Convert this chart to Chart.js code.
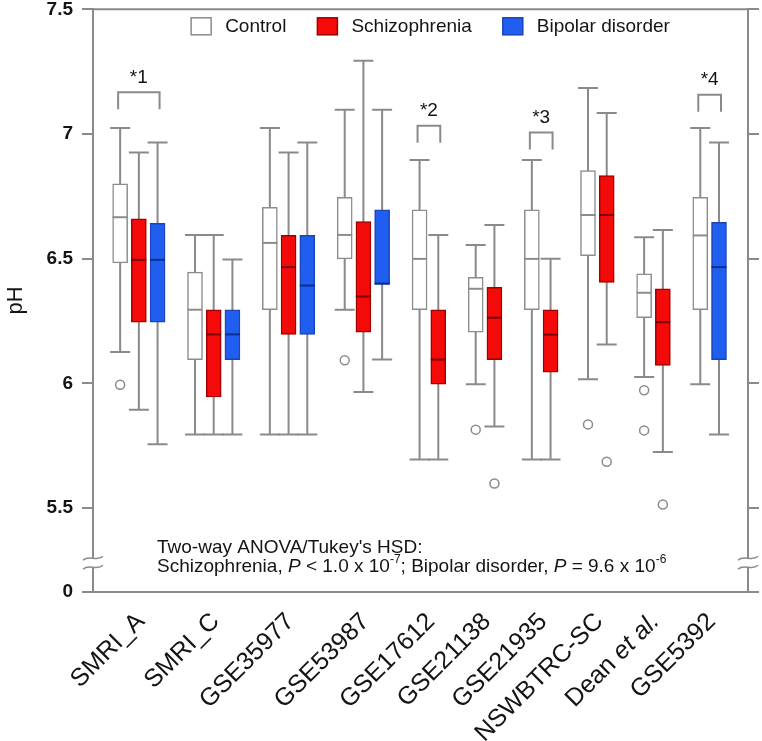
<!DOCTYPE html>
<html>
<head>
<meta charset="utf-8">
<script src="https://cdn.jsdelivr.net/npm/chart.js@4"></script>
<style>
  html, body { margin: 0; padding: 0; background: #fff; }
  #wrap { position: relative; width: 762px; height: 741px; }
</style>
</head>
<body>
<div id="wrap"><canvas id="phChart"></canvas></div>
<script>
// datasets on the x axis
const groups = ['SMRI_A', 'SMRI_C', 'GSE35977', 'GSE53987', 'GSE17612',
                'GSE21138', 'GSE21935', 'NSWBTRC-SC', 'Dean et al.', 'GSE5392'];

// [lower whisker, q1, median, q3, upper whisker] per group, null = no box
const control = [
  [6.125, 6.483, 6.666, 6.800, 7.024],
  [5.795, 6.095, 6.295, 6.446, 6.595],
  [5.795, 6.295, 6.563, 6.706, 7.024],
  [6.295, 6.499, 6.595, 6.746, 7.097],
  [5.694, 6.295, 6.499, 6.696, 6.896],
  [5.996, 6.205, 6.379, 6.425, 6.555],
  [5.694, 6.295, 6.499, 6.696, 6.896],
  [6.016, 6.512, 6.675, 6.853, 7.184],
  [6.025, 6.263, 6.363, 6.439, 6.586],
  [5.996, 6.295, 6.593, 6.746, 7.024]
];
const schizophrenia = [
  [5.894, 6.245, 6.495, 6.660, 6.926],
  [5.795, 5.945, 6.196, 6.295, 6.595],
  [5.795, 6.196, 6.466, 6.593, 6.926],
  [5.965, 6.205, 6.348, 6.649, 7.294],
  [5.694, 5.996, 6.095, 6.295, 6.595],
  [5.827, 6.095, 6.263, 6.385, 6.635],
  [5.694, 6.045, 6.195, 6.295, 6.499],
  [6.156, 6.405, 6.675, 6.833, 7.084],
  [5.724, 6.072, 6.245, 6.379, 6.615],
  null
];
const bipolar = [
  [5.755, 6.245, 6.495, 6.642, 6.966],
  [5.795, 6.095, 6.196, 6.295, 6.496],
  [5.795, 6.196, 6.392, 6.593, 6.966],
  [6.095, 6.396, 6.400, 6.696, 7.097],
  null, null, null, null, null,
  [5.795, 6.095, 6.466, 6.646, 6.966]
];

// outliers per group
const controlOutliers = [[5.994], [], [], [6.092], [], [5.814], [], [5.835], [5.972, 5.811], []];
const schizophreniaOutliers = [[], [], [], [], [], [5.598], [], [5.685], [5.514], []];
const bipolarOutliers = [[], [], [], [], [], [], [], [], [], []];

// significance brackets
const sigLabels = ['*1', null, null, null, '*2', null, '*3', null, null, '*4'];
const sigLevels = [7.167, null, null, null, 7.033, null, 7.006, null, null, 7.157];

// y axis (broken: bottom of the axis is labelled 0)
const yAxisBottom = 5.164;
const yTicks = [yAxisBottom, 5.5, 6, 6.5, 7, 7.5];
const yBreak = [5.262, 5.298];

const seriesNames = ['Control', 'Schizophrenia', 'Bipolar disorder'];
const seriesStats = [control, schizophrenia, bipolar];
const seriesOutliers = [controlOutliers, schizophreniaOutliers, bipolarOutliers];
const fills = ['#ffffff', '#f50a0a', '#1f5ef0'];
const borders = ['#8c8c8c', '#a00000', '#1a44b8'];
const medianColors = ['#8c8c8c', '#7a0000', '#0b2f8f'];
const axisGray = '#8a8a8a';
const textColor = '#141414';

// lay boxes out in slots, one empty slot between groups
const boxes = [];
const groupSlots = [];
let slot = 0;
groups.forEach((g, gi) => {
  const slots = [];
  seriesStats.forEach((stats, si) => {
    if (stats[gi]) {
      boxes.push({ series: si, group: gi, slot: slot, stats: stats[gi] });
      slots.push(slot);
      slot++;
    }
  });
  groupSlots.push(slots);
  slot++;
});
const lastSlot = slot - 2;

const datasets = seriesNames.map((name, si) => ({
  label: name,
  isBox: true,
  data: boxes.filter(b => b.series === si).map(b => ({ x: b.slot, y: [b.stats[1], b.stats[3]] })),
  backgroundColor: fills[si],
  borderColor: borders[si],
  borderWidth: 1.5,
  borderSkipped: false,
  barThickness: 15,
  grouped: false
}));
seriesNames.forEach((name, si) => {
  const pts = [];
  boxes.filter(b => b.series === si).forEach(b => {
    seriesOutliers[si][b.group].forEach(v => pts.push({ x: b.slot, y: v }));
  });
  datasets.push({
    type: 'scatter',
    label: name + ' outliers',
    data: pts,
    pointRadius: 4.5,
    pointBackgroundColor: '#fff',
    pointBorderColor: axisGray,
    pointBorderWidth: 1.5
  });
});

function drawRuns(ctx, x, y, runs, size) {
  let cx = x;
  runs.forEach(r => {
    const s = r.sup ? Math.round(size * 0.62) : size;
    ctx.font = (r.italic ? 'italic ' : '') + s + 'px "Liberation Sans", Arial, sans-serif';
    ctx.fillText(r.t, cx, r.sup ? y - size * 0.38 : y);
    cx += ctx.measureText(r.t).width;
  });
}

const boxPlugin = {
  id: 'boxExtras',
  beforeDatasetsDraw(chart) {
    const { ctx, scales: { x, y } } = chart;
    ctx.save();
    ctx.strokeStyle = axisGray;
    ctx.lineWidth = 2;
    boxes.forEach(b => {
      const px = x.getPixelForValue(b.slot);
      const lo = y.getPixelForValue(b.stats[0]);
      const hi = y.getPixelForValue(b.stats[4]);
      ctx.beginPath();
      ctx.moveTo(px, lo); ctx.lineTo(px, hi);
      ctx.moveTo(px - 10, lo); ctx.lineTo(px + 10, lo);
      ctx.moveTo(px - 10, hi); ctx.lineTo(px + 10, hi);
      ctx.stroke();
    });
    ctx.restore();
  },
  afterDatasetsDraw(chart) {
    const { ctx, scales: { x, y } } = chart;
    ctx.save();
    ctx.lineWidth = 2;
    boxes.forEach(b => {
      const px = x.getPixelForValue(b.slot);
      const py = y.getPixelForValue(b.stats[2]);
      ctx.strokeStyle = medianColors[b.series];
      ctx.beginPath();
      ctx.moveTo(px - 7.5, py); ctx.lineTo(px + 7.5, py);
      ctx.stroke();
    });
    ctx.restore();
  },
  afterDraw(chart) {
    const { ctx, chartArea: area, scales: { x, y } } = chart;
    ctx.save();

    // top frame line
    ctx.strokeStyle = axisGray;
    ctx.lineWidth = 2;
    ctx.beginPath();
    ctx.moveTo(area.left, area.top);
    ctx.lineTo(area.right, area.top);
    ctx.stroke();

    // axis breaks on both sides
    const b1 = y.getPixelForValue(yBreak[1]);
    const b2 = y.getPixelForValue(yBreak[0]);
    [area.left, area.right].forEach(ax => {
      ctx.fillStyle = '#fff';
      ctx.fillRect(ax - 3, b1, 6, b2 - b1);
      ctx.strokeStyle = axisGray;
      ctx.lineWidth = 1.5;
      [b1, b2].forEach(by => {
        ctx.beginPath();
        ctx.moveTo(ax - 10, by + 2);
        ctx.bezierCurveTo(ax - 4, by - 4, ax + 4, by + 4, ax + 10, by - 2);
        ctx.stroke();
      });
    });

    // legend
    ctx.font = '19px "Liberation Sans", Arial, sans-serif';
    ctx.textBaseline = 'middle';
    ctx.textAlign = 'left';
    const legendItems = chart.data.datasets.filter(d => d.isBox);
    const widths = legendItems.map(d => 20 + 14 + ctx.measureText(d.label).width);
    const gap = 31;
    const total = widths.reduce((a, w) => a + w, 0) + gap * (widths.length - 1);
    let lx = (area.left + area.right) / 2 + 10 - total / 2;
    const ly = area.top + 17;
    legendItems.forEach((d, i) => {
      ctx.fillStyle = d.backgroundColor;
      ctx.fillRect(lx, ly - 8.5, 20, 17);
      ctx.strokeStyle = d.borderColor;
      ctx.lineWidth = 1.5;
      ctx.strokeRect(lx, ly - 8.5, 20, 17);
      ctx.fillStyle = textColor;
      ctx.fillText(d.label, lx + 34, ly);
      lx += widths[i] + gap;
    });

    // significance brackets
    ctx.strokeStyle = axisGray;
    ctx.lineWidth = 2;
    ctx.textAlign = 'center';
    ctx.font = '19px "Liberation Sans", Arial, sans-serif';
    sigLabels.forEach((lab, gi) => {
      if (!lab) return;
      const s = groupSlots[gi];
      const x1 = x.getPixelForValue(s[0]) - 2;
      const x2 = x.getPixelForValue(s[s.length - 1]) + 2;
      const top = y.getPixelForValue(sigLevels[gi]);
      ctx.beginPath();
      ctx.moveTo(x1, top + 17); ctx.lineTo(x1, top);
      ctx.lineTo(x2, top); ctx.lineTo(x2, top + 17);
      ctx.stroke();
      ctx.fillStyle = textColor;
      ctx.fillText(lab, (x1 + x2) / 2, top - 15);
    });

    // rotated group labels
    groups.forEach((name, gi) => {
      const s = groupSlots[gi];
      const cx = x.getPixelForValue((s[0] + s[s.length - 1]) / 2) + 2;
      const cy = area.bottom + 26;
      ctx.save();
      ctx.translate(cx, cy);
      ctx.rotate(-Math.PI / 4);
      ctx.textAlign = 'right';
      ctx.textBaseline = 'middle';
      ctx.fillStyle = textColor;
      const parts = name.endsWith(' et al.') ? [[name.slice(0, -6), ''], ['et al.', 'italic ']] : [[name, '']];
      let ex = 0;
      for (let i = parts.length - 1; i >= 0; i--) {
        ctx.font = parts[i][1] + '25px "Liberation Sans", Arial, sans-serif';
        ctx.fillText(parts[i][0], ex, 0);
        ex -= ctx.measureText(parts[i][0]).width;
      }
      ctx.restore();
    });

    // statistics note
    ctx.textAlign = 'left';
    ctx.textBaseline = 'middle';
    ctx.fillStyle = textColor;
    const nx = area.left + 64;
    drawRuns(ctx, nx, 548, [{ t: "Two-way ANOVA/Tukey's HSD:" }], 19);
    drawRuns(ctx, nx, 567, [
      { t: 'Schizophrenia, ' }, { t: 'P', italic: true }, { t: ' < 1.0 x 10' }, { t: '-7', sup: true },
      { t: '; Bipolar disorder, ' }, { t: 'P', italic: true }, { t: ' = 9.6 x 10' }, { t: '-6', sup: true }
    ], 19);

    ctx.restore();
  }
};

Chart.defaults.font.family = '"Liberation Sans", Arial, sans-serif';

const yAxisCommon = {
  min: yAxisBottom,
  max: 7.5,
  afterBuildTicks(scale) { scale.ticks = yTicks.map(v => ({ value: v })); },
  grid: { drawOnChartArea: false, drawTicks: true, tickLength: 11, color: axisGray, lineWidth: 2 },
  border: { display: true, color: axisGray, width: 2 }
};

new Chart(document.getElementById('phChart'), {
  type: 'bar',
  data: { datasets: datasets },
  options: {
    responsive: true,
    maintainAspectRatio: false,
    animation: false,
    layout: { padding: { top: 9.3, left: 0, right: 0, bottom: 0 } },
    plugins: { legend: { display: false }, tooltip: { enabled: false } },
    scales: {
      x: {
        type: 'linear',
        offset: false,
        min: -1.45,
        max: lastSlot + 1.55,
        ticks: { display: false },
        grid: { display: false, drawTicks: false },
        border: { display: true, color: axisGray, width: 2 },
        afterFit(scale) { scale.height = 149.3; }
      },
      y: Object.assign({}, yAxisCommon, {
        position: 'left',
        ticks: {
          callback: v => (v === yAxisBottom ? '0' : String(v)),
          color: textColor,
          font: { size: 19, weight: 'bold' },
          padding: 9
        },
        title: { display: true, text: 'pH', color: textColor, font: { size: 22 }, padding: { top: 3 } },
        afterFit(scale) { scale.width = 93; scale.paddingTop = 0; scale.paddingBottom = 0; }
      }),
      y2: Object.assign({}, yAxisCommon, {
        position: 'right',
        ticks: { display: false },
        afterFit(scale) { scale.width = 14; scale.paddingTop = 0; scale.paddingBottom = 0; }
      })
    }
  },
  plugins: [boxPlugin]
});
</script>
</body>
</html>
